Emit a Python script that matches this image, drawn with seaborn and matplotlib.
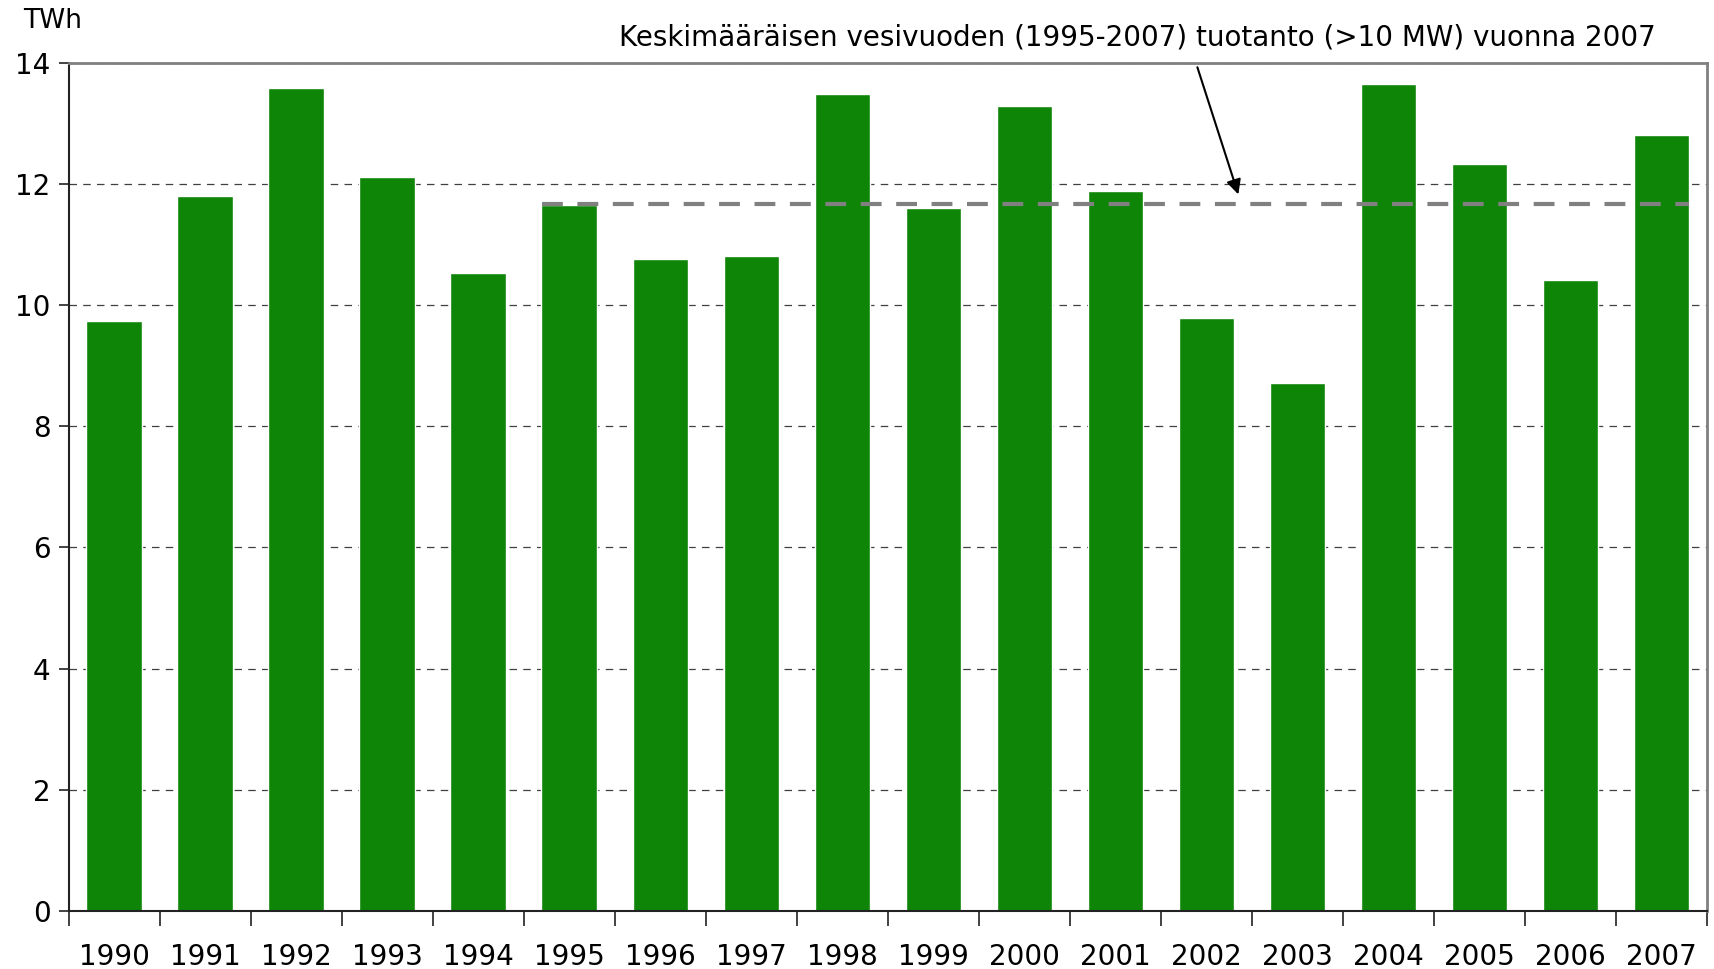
import numpy as np
import pandas as pd
import matplotlib
matplotlib.use("Agg")
import matplotlib.pyplot as plt
import seaborn as sns

years = ["1990", "1991", "1992", "1993", "1994", "1995", "1996", "1997", "1998",
         "1999", "2000", "2001", "2002", "2003", "2004", "2005", "2006", "2007"]
twh = [9.74, 11.81, 13.58, 12.12, 10.53, 11.65, 10.77, 10.82, 13.49,
       11.60, 13.29, 11.89, 9.79, 8.72, 13.66, 12.34, 10.42, 12.81]
mean_level = 11.67
note = "Keskimääräisen vesivuoden (1995-2007) tuotanto (>10 MW) vuonna 2007"

df = pd.DataFrame({"year": years, "twh": twh})

sns.set_style("white")
plt.rcParams["font.family"] = ["DejaVu Sans"]
plt.rcParams["text.color"] = "black"
plt.rcParams["xtick.labelcolor"] = "black"
plt.rcParams["ytick.labelcolor"] = "black"

fig = plt.figure(figsize=(17.14, 9.69), dpi=100)
ax = fig.add_axes([0.040, 0.060, 0.956, 0.875])

sns.barplot(data=df, x="year", y="twh", color="#0F8508", saturation=1,
            width=0.61, ax=ax, zorder=2)

# mean line over 1995-2007
i0 = years.index("1995")
i1 = years.index("2007")
ax.plot([i0 - 0.3, i1 + 0.3], [mean_level, mean_level], color="#808080",
        lw=3, linestyle=(0, (5, 3.5)), zorder=3)

ax.annotate("", xy=(12.35, 11.83), xytext=(11.90, 13.93),
            arrowprops=dict(arrowstyle="-|>", color="black", lw=1.5,
                            mutation_scale=22, shrinkA=0, shrinkB=0),
            annotation_clip=False, zorder=4)
ax.text(11.24, 14.42, note, ha="center", va="center", fontsize=20)

ax.set_xlim(-0.5, len(years) - 0.5)
ax.set_ylim(0, 14)
ax.set_yticks(np.arange(0, 15, 2))
ax.set_xlabel("")
ax.set_ylabel("")
ax.text(-0.028, 1.05, "TWh", transform=ax.transAxes, fontsize=19,
        ha="left", va="center")

ax.yaxis.grid(True, linestyle=(0, (6, 5)), color="#404040", lw=0.9)
ax.set_axisbelow(True)

# labels centered under bars, tick marks between categories
ax.set_xticks(np.arange(len(years)))
ax.set_xticklabels(years)
ax.set_xticks(np.arange(len(years) + 1) - 0.5, minor=True)
ax.tick_params(axis="x", which="major", bottom=True, length=0, pad=23,
               labelsize=20, labelcolor="black")
ax.tick_params(axis="x", which="minor", bottom=True, length=11, width=1.2,
               color="#222222", direction="out")
ax.tick_params(axis="y", left=True, length=7, width=1.2, color="#222222",
               direction="out", labelsize=20, pad=6, labelcolor="black")

for s in ["top", "right"]:
    ax.spines[s].set_visible(True)
    ax.spines[s].set_color("#808080")
    ax.spines[s].set_linewidth(2)
for s in ["left", "bottom"]:
    ax.spines[s].set_color("#222222")
    ax.spines[s].set_linewidth(1.5)

fig.savefig("out.png", dpi=100)
